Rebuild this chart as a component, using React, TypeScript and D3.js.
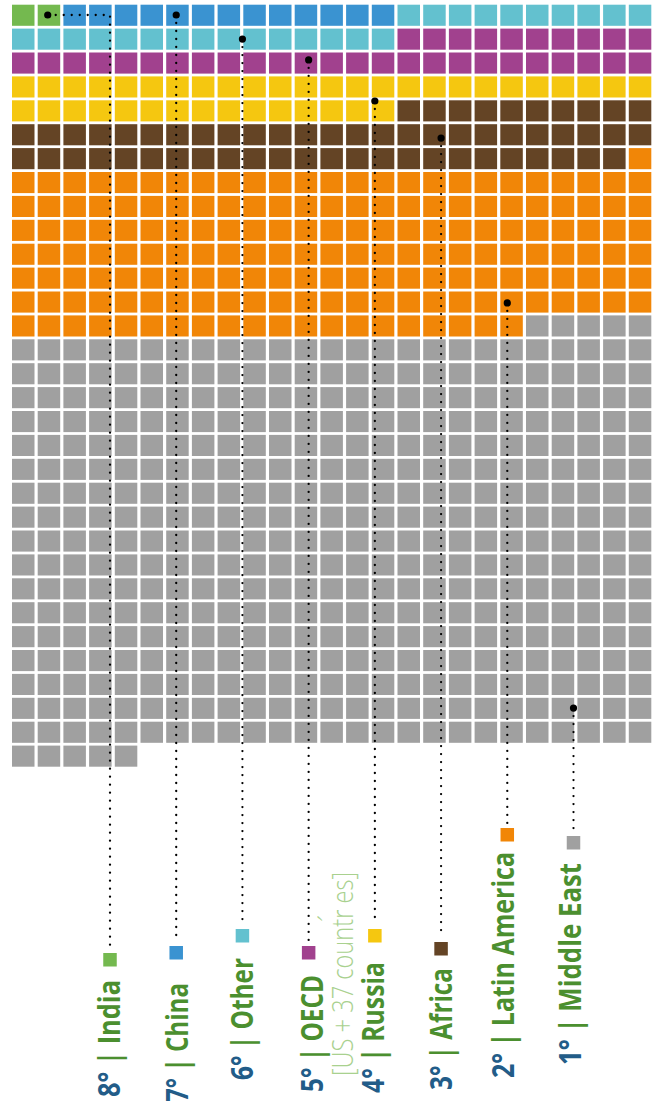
import * as d3 from 'd3';
import React, { useEffect, useRef } from 'react';

// categories, ranked, in fill order (top-left first)
const regions = ['India', 'China', 'Other', 'OECD', 'Russia', 'Africa', 'Latin America', 'Middle East'];
const ranks = ['8°', '7°', '6°', '5°', '4°', '3°', '2°', '1°'];
const cellCounts = [2, 13, 25, 35, 40, 59, 171, 435];
const colors = ['#74b94f', '#3a93d1', '#63c1cf', '#a1418e', '#f5c710', '#644425', '#f18607', '#a0a0a0'];
const oecdNote = '[US + 37 countr es]';

const COLS = 25;
const ROWS = 32;
const width = 654;
const height = 1101;

// where each leader line starts inside the grid, in grid units [col, row]
const anchors: [number, number][] = [
  [1.39, 0.43],
  [6.37, 0.43],
  [8.91, 1.44],
  [11.48, 2.31],
  [14.07, 4.03],
  [16.67, 5.58],
  [19.18, 12.48],
  [21.83, 29.43],
];

// label placement: baseline offset from line, text start y, text length, square top
const labelLayout = [
  { dx: 9.5, start: 1097, len: 117, sq: 953 },
  { dx: 12, start: 1102, len: 119, sq: 946 },
  { dx: 11, start: 1080, len: 122, sq: 929 },
  { dx: 14.5, start: 1092, len: 117, sq: 946 },
  { dx: 9.5, start: 1093, len: 131, sq: 929 },
  { dx: 11, start: 1090, len: 122, sq: 942 },
  { dx: 7, start: 1078, len: 226, sq: 828 },
  { dx: 7.5, start: 1065, len: 202, sq: 836 },
];

const WaffleChart = () => {
  const svgRef = useRef<SVGSVGElement | null>(null);

  useEffect(() => {
    document.body.style.margin = '0';
    const svg = d3.select(svgRef.current).attr('width', width).attr('height', height);
    svg.selectAll('*').remove();
    svg.append('rect').attr('width', width).attr('height', height).attr('fill', 'white');

    const xGrid = d3.scaleLinear().domain([0, COLS]).range([12, 654.5]);
    const yGrid = d3.scaleLinear().domain([0, ROWS]).range([4.7, 4.7 + ROWS * 23.9]);
    const cellW = xGrid(1) - xGrid(0) - 3.2;
    const cellH = yGrid(1) - yGrid(0) - 2.8;

    const cells: { i: number; col: number; row: number }[] = [];
    let k = 0;
    cellCounts.forEach((n, i) => {
      for (let j = 0; j < n; j++) {
        cells.push({ i, col: k % COLS, row: Math.floor(k / COLS) });
        k++;
      }
    });

    svg
      .append('g')
      .selectAll('rect')
      .data(cells)
      .enter()
      .append('rect')
      .attr('x', (d) => xGrid(d.col))
      .attr('y', (d) => yGrid(d.row))
      .attr('width', cellW)
      .attr('height', cellH)
      .attr('fill', (d) => colors[d.i]);

    const xLegend = d3.scalePoint<string>().domain(regions).range([110, 573.5]);

    const lines = svg.append('g');
    regions.forEach((r, i) => {
      const lx = xLegend(r) as number;
      const ax = i === 0 ? xGrid(anchors[i][0]) : lx;
      const ay = yGrid(anchors[i][1]);
      const lay = labelLayout[i];
      const path = d3.path();
      path.moveTo(ax, ay);
      if (ax !== lx) path.lineTo(lx, ay);
      path.lineTo(lx, lay.sq - 4);
      lines
        .append('path')
        .attr('d', path.toString())
        .attr('fill', 'none')
        .attr('stroke', '#000')
        .attr('stroke-width', 2.3)
        .attr('stroke-linecap', 'round')
        .attr('stroke-dasharray', '0,8');
      lines.append('circle').attr('cx', ax).attr('cy', ay).attr('r', 3.6).attr('fill', '#000');

      // legend square
      lines
        .append('rect')
        .attr('x', lx - 6.75)
        .attr('y', lay.sq)
        .attr('width', 13.5)
        .attr('height', 13.5)
        .attr('fill', colors[i]);

      const label = lines
        .append('text')
        .attr('transform', `translate(${lx + lay.dx},${lay.start}) rotate(-90)`)
        .attr('font-family', '"Open Sans", "Noto Sans", sans-serif')
        .attr('font-weight', 700)
        .attr('font-size', 31)
        .attr('textLength', lay.len)
        .attr('lengthAdjust', 'spacingAndGlyphs');
      label.append('tspan').attr('fill', '#225c88').text(ranks[i]);
      label.append('tspan').attr('fill', '#4b8f2f').text(` | ${r}`);

      if (r === 'OECD') {
        lines
          .append('text')
          .attr('transform', `translate(${lx + 44},1076) rotate(-90)`)
          .attr('font-family', '"Open Sans", "Noto Sans", sans-serif')
          .attr('font-weight', 300)
          .attr('font-size', 29)
          .attr('fill', '#a9d18f')
          .attr('textLength', 204)
          .attr('lengthAdjust', 'spacingAndGlyphs')
          .text(oecdNote);
        lines
          .append('text')
          .attr('transform', `translate(${lx + 30},922) rotate(-90)`)
          .attr('font-family', '"Open Sans", "Noto Sans", sans-serif')
          .attr('font-weight', 300)
          .attr('font-size', 27)
          .attr('fill', '#a9d18f')
          .text('´');
      }
    });
  }, []);

  return <svg ref={svgRef} style={{ display: 'block' }}></svg>;
};

export default function App() {
  return <WaffleChart />;
}
